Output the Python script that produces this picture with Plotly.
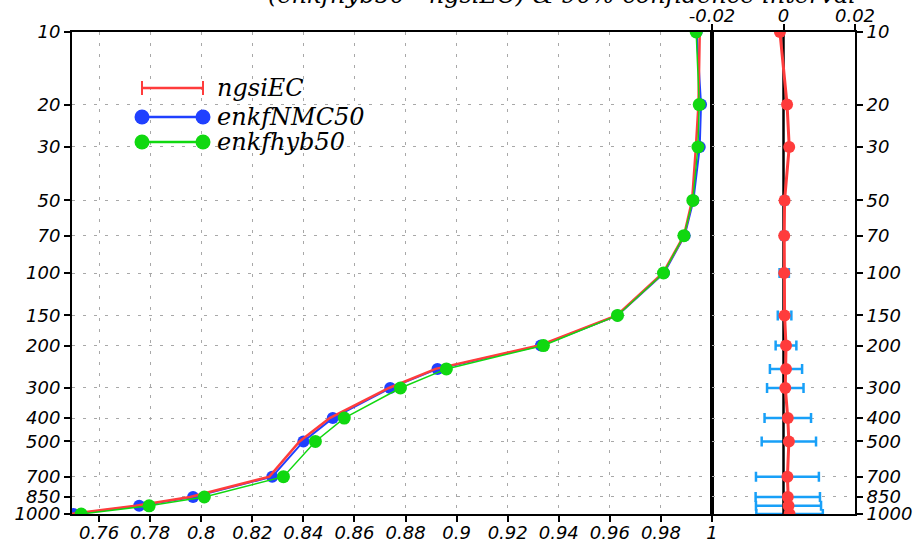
import plotly.graph_objects as go

# ---------------- data ----------------
levels = [10, 20, 30, 50, 70, 100, 150, 200, 250, 300, 400, 500, 700, 850, 925, 1000]

ngsiEC = [0.9952, 0.9947, 0.9937, 0.9922, 0.9890, 0.9808, 0.9627, 0.9322,
          0.8918, 0.8735, 0.8503, 0.8385, 0.8267, 0.7956, 0.7744, 0.7483]
enkfNMC50 = [0.9940, 0.9957, 0.9952, 0.9927, 0.9893, 0.9812, 0.9630, 0.9330,
             0.8925, 0.8740, 0.8515, 0.8400, 0.8278, 0.7968, 0.7757, 0.7500]
enkfhyb50 = [0.9938, 0.9950, 0.9945, 0.9925, 0.9890, 0.9810, 0.9630, 0.9340,
             0.8960, 0.8780, 0.8560, 0.8447, 0.8322, 0.8012, 0.7796, 0.7530]

diff = [-0.0010, 0.0010, 0.0016, 0.0003, 0.0002, 0.0002, 0.0003, 0.0007,
        0.0007, 0.0005, 0.0012, 0.0015, 0.0011, 0.0012, 0.0014, 0.0017]
ci_half = [0.0003, 0.0004, 0.0005, 0.0008, 0.0008, 0.0013, 0.0019, 0.0029,
           0.0045, 0.0051, 0.0065, 0.0076, 0.0088, 0.0090, 0.0091, 0.0093]

ytick_vals = [10, 20, 30, 50, 70, 100, 150, 200, 300, 400, 500, 700, 850, 1000]
ytick_text = ["10", "20", "30", "50", "70", "100", "150", "200", "300", "400",
              "500", "700", "850", "1000"]
xtick_vals = [0.76, 0.78, 0.80, 0.82, 0.84, 0.86, 0.88, 0.90, 0.92, 0.94, 0.96, 0.98, 1.0]
xtick_text = ["0.76", "0.78", "0.8", "0.82", "0.84", "0.86", "0.88", "0.9", "0.92",
              "0.94", "0.96", "0.98", "1"]
x2tick_vals = [-0.02, 0, 0.02]
x2tick_text = ["-0.02", "0", "0.02"]

series_names = ["ngsiEC", "enkfNMC50", "enkfhyb50"]
title_text = "(enkfhyb50 - ngsiEC) & 90% confidence interval"

# ---------------- style ----------------
RED = "#ff3c3c"
BLUE = "#2040ff"
GREEN = "#10d810"
CIBLUE = "#18a0f8"
GRID = "#a8a8a8"
W, H = 917, 545
L, R, T, B = 72, 62, 32, 31
split = 640 / 783

tickfont = dict(family="DejaVu Sans", size=18, color="black", style="italic")

fig = go.Figure()

# left panel
fig.add_trace(go.Scatter(x=enkfNMC50, y=levels, mode="lines+markers", name=series_names[1],
                         line=dict(color=BLUE, width=2), marker=dict(color=BLUE, size=12),
                         xaxis="x", yaxis="y", showlegend=False))
fig.add_trace(go.Scatter(x=ngsiEC, y=levels, mode="lines", name=series_names[0],
                         line=dict(color=RED, width=2.5),
                         xaxis="x", yaxis="y", showlegend=False))
fig.add_trace(go.Scatter(x=enkfhyb50, y=levels, mode="lines+markers", name=series_names[2],
                         line=dict(color=GREEN, width=1.5), marker=dict(color=GREEN, size=13),
                         xaxis="x", yaxis="y", showlegend=False))

# right panel
fig.add_trace(go.Scatter(x=diff, y=levels, mode="markers",
                         marker=dict(size=1, opacity=0),
                         error_x=dict(type="data", array=ci_half, visible=True,
                                      color=CIBLUE, thickness=2.5, width=5),
                         xaxis="x2", yaxis="y2", showlegend=False, hoverinfo="skip"))
fig.add_trace(go.Scatter(x=[0, 0], y=[levels[0], levels[-1]], mode="lines",
                         line=dict(color="black", width=2.5),
                         xaxis="x2", yaxis="y2", showlegend=False, hoverinfo="skip"))
fig.add_trace(go.Scatter(x=diff, y=levels, mode="lines+markers",
                         line=dict(color=RED, width=3), marker=dict(color=RED, size=12),
                         xaxis="x2", yaxis="y2", showlegend=False))

axis_common = dict(showline=True, linecolor="black", linewidth=2, ticks="outside",
                   ticklen=6, tickwidth=2, tickcolor="black", tickfont=tickfont,
                   zeroline=False, automargin=False)
grid_style = dict(showgrid=True, gridcolor=GRID, gridwidth=1, griddash="3px,8px")

fig.update_layout(
    width=W, height=H,
    margin=dict(l=L, r=R, t=T, b=B, autoexpand=False),
    paper_bgcolor="white", plot_bgcolor="white",
    xaxis=dict(domain=[0, split], range=[0.7494, 1.0], anchor="y",
               tickmode="array", tickvals=xtick_vals, ticktext=xtick_text,
               ticklabelstandoff=-5,
               mirror=True, **axis_common, **grid_style),
    yaxis=dict(type="log", range=[3, 1], anchor="x",
               tickmode="array", tickvals=ytick_vals, ticktext=ytick_text,
               mirror=True, **axis_common, **grid_style),
    xaxis2=dict(domain=[split, 1], range=[-0.02, 0.02], anchor="y2", side="top",
                tickmode="array", tickvals=x2tick_vals, ticktext=x2tick_text,
                ticklabelstandoff=-5,
                mirror=True, showgrid=False, **axis_common),
    yaxis2=dict(type="log", range=[3, 1], anchor="x2", side="right",
                tickmode="array", tickvals=ytick_vals, ticktext=ytick_text,
                mirror=True, **axis_common, **grid_style),
)

# ---------------- hand-drawn legend (paper coords) ----------------
pw, ph = W - L - R, H - T - B


def px2x(px):
    return (px - L) / pw


def px2y(py):
    return 1 - (py - T) / ph


shapes = []
annos = []
legend_rows = [(88, RED, "cross"), (117, BLUE, "circle"), (142, GREEN, "circle")]
lx0, lx1 = 142, 203
for (py, col, sym), name in zip(legend_rows, series_names):
    yy = px2y(py)
    shapes.append(dict(type="line", xref="paper", yref="paper", x0=px2x(lx0), x1=px2x(lx1),
                       y0=yy, y1=yy, line=dict(color=col, width=2.5)))
    for ex in (lx0, lx1):
        if sym == "cross":
            shapes.append(dict(type="line", xref="paper", yref="paper",
                               xsizemode="pixel", ysizemode="pixel",
                               xanchor=px2x(ex), yanchor=yy,
                               x0=0, x1=0, y0=-7, y1=7, line=dict(color=col, width=2)))
        else:
            shapes.append(dict(type="circle", xref="paper", yref="paper",
                               xsizemode="pixel", ysizemode="pixel",
                               xanchor=px2x(ex), yanchor=yy,
                               x0=-7.5, x1=7.5, y0=-7.5, y1=7.5,
                               fillcolor=col, line=dict(color=col, width=0)))
    annos.append(dict(x=px2x(215), y=yy, xref="paper", yref="paper", text=name,
                      showarrow=False, xanchor="left", yanchor="middle",
                      font=dict(family="DejaVu Serif", size=24, color="black", style="italic")))

annos.append(dict(x=px2x(562), y=1, xref="paper", yref="paper", text=title_text,
                  showarrow=False, xanchor="center", yanchor="bottom", yshift=21,
                  font=dict(family="DejaVu Serif", size=24, color="black", style="italic")))

fig.update_layout(shapes=shapes, annotations=annos)

fig.write_html("out.html")
